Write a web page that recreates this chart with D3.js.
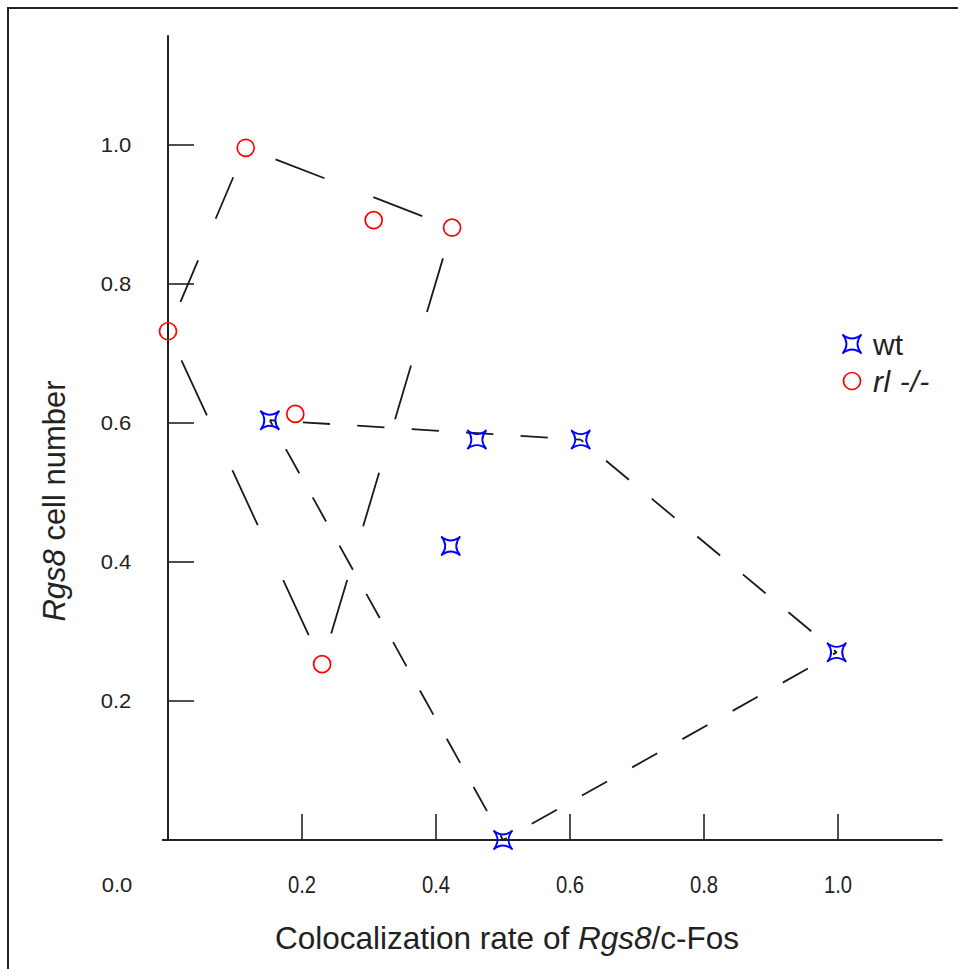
<!DOCTYPE html>
<html>
<head>
<meta charset="utf-8">
<script src="https://cdn.jsdelivr.net/npm/d3@7"></script>
<style>
  html, body { margin: 0; padding: 0; background: #fff; }
  svg { display: block; }
  text { font-family: "Liberation Sans", Arial, sans-serif; fill: #222; }
</style>
</head>
<body>
<div id="chart"></div>
<script>
// ---- data ----
const wtX = [0.152, 0.461, 0.616, 0.422, 0.998, 0.500];
const wtY = [0.604, 0.576, 0.576, 0.423, 0.270, 0.000];
const rlX = [0.000, 0.116, 0.307, 0.424, 0.190, 0.230];
const rlY = [0.732, 0.996, 0.892, 0.881, 0.613, 0.253];
const xTicks = [0.2, 0.4, 0.6, 0.8, 1.0];
const xTickLabels = ["0.2", "0.4", "0.6", "0.8", "1.0"];
const yTicks = [0.2, 0.4, 0.6, 0.8, 1.0];
const yTickLabels = ["0.2", "0.4", "0.6", "0.8", "1.0"];
const originLabel = "0.0";
const seriesNames = ["wt", "rl -/-"];

const W = 958, H = 969;
const svg = d3.select("#chart").append("svg").attr("width", W).attr("height", H);

// frame
svg.append("rect").attr("x", 8).attr("y", 8).attr("width", 1000).attr("height", 1000)
  .attr("fill", "none").attr("stroke", "#222").attr("stroke-width", 2);

const x = d3.scaleLinear().domain([0, 1]).range([168, 838]);
const y = d3.scaleLinear().domain([0, 1]).range([840, 145]);
const xMin = -0.009, xMax = 1.156, yMax = 1.158;

const axisG = svg.append("g").attr("stroke", "#222").attr("fill", "none");
axisG.append("line").attr("x1", x(xMin)).attr("x2", x(xMax)).attr("y1", y(0)).attr("y2", y(0)).attr("stroke-width", 2);
axisG.append("line").attr("x1", x(0)).attr("x2", x(0)).attr("y1", y(0)).attr("y2", y(yMax)).attr("stroke-width", 2);

// ticks (inward)
xTicks.forEach(t => axisG.append("line").attr("x1", x(t)).attr("x2", x(t)).attr("y1", y(0)).attr("y2", y(0) - 26).attr("stroke-width", 1.6));
yTicks.forEach(t => axisG.append("line").attr("y1", y(t)).attr("y2", y(t)).attr("x1", x(0)).attr("x2", x(0) + 26).attr("stroke-width", 1.6));

// tick labels
xTicks.forEach((t, i) => {
  svg.append("text").attr("transform", `translate(${x(t)},${893}) scale(0.88,1)`)
    .attr("text-anchor", "middle").attr("font-size", 23).text(xTickLabels[i]);
});
yTicks.forEach((t, i) => {
  svg.append("text").attr("transform", `translate(${116},${y(t) + 7}) scale(1.1,1)`)
    .attr("text-anchor", "middle").attr("font-size", 20).text(yTickLabels[i]);
});
svg.append("text").attr("transform", `translate(${117},${892}) scale(1.1,1)`)
  .attr("text-anchor", "middle").attr("font-size", 20).text(originLabel);

// axis titles
const xt = svg.append("text").attr("x", 507).attr("y", 949).attr("text-anchor", "middle").attr("font-size", 31.5);
xt.append("tspan").text("Colocalization rate of ");
xt.append("tspan").attr("font-style", "italic").text("Rgs8");
xt.append("tspan").text("/c-Fos");

const yt = svg.append("text").attr("transform", `translate(65,501) rotate(-90)`).attr("text-anchor", "middle").attr("font-size", 31);
yt.append("tspan").attr("font-style", "italic").text("Rgs8");
yt.append("tspan").text(" cell number");

// hulls: each edge dashed separately, pattern centred on the edge
function drawHull(xs, ys, targetDash, endGap) {
  const pts = xs.map((v, i) => [x(v), y(ys[i])]);
  const hull = d3.polygonHull(pts);
  const g = svg.append("g").attr("stroke", "#1a1a1a").attr("stroke-width", 1.8).attr("fill", "none");
  for (let i = 0; i < hull.length; i++) {
    const a = hull[i], b = hull[(i + 1) % hull.length];
    const L = Math.hypot(b[0] - a[0], b[1] - a[1]);
    const inner = L - 2 * endGap;
    const n = Math.max(1, Math.round((inner + targetDash) / (2 * targetDash)));
    const D = inner / (2 * n - 1);
    g.append("line").attr("x1", a[0]).attr("y1", a[1]).attr("x2", b[0]).attr("y2", b[1])
      .attr("stroke-dasharray", `${D},${D}`)
      .attr("stroke-dashoffset", 2 * D - endGap);
  }
}
drawHull(rlX, rlY, 55, 32);
drawHull(wtX, wtY, 27, 33);

// markers
const starPath = "M-9.5,-9.5 Q0,-1.5 9.5,-9.5 Q1.5,0 9.5,9.5 Q0,1.5 -9.5,9.5 Q-1.5,0 -9.5,-9.5 Z";
svg.append("g").selectAll("path").data(wtX.map((v, i) => [v, wtY[i]])).join("path")
  .attr("d", starPath).attr("transform", d => `translate(${x(d[0])},${y(d[1])})`)
  .attr("fill", "none").attr("stroke", "#0000ff").attr("stroke-width", 1.8);
svg.append("g").selectAll("circle").data(rlX.map((v, i) => [v, rlY[i]])).join("circle")
  .attr("cx", d => x(d[0])).attr("cy", d => y(d[1])).attr("r", 8.5)
  .attr("fill", "none").attr("stroke", "#ff0000").attr("stroke-width", 1.7);

// legend
const lg = svg.append("g");
lg.append("path").attr("d", starPath).attr("transform", "translate(852,344)")
  .attr("fill", "none").attr("stroke", "#0000ff").attr("stroke-width", 1.8);
lg.append("circle").attr("cx", 852).attr("cy", 381).attr("r", 8.5)
  .attr("fill", "none").attr("stroke", "#ff0000").attr("stroke-width", 1.7);
lg.append("text").attr("x", 873).attr("y", 355).attr("font-size", 30).text(seriesNames[0]);
lg.append("text").attr("x", 873).attr("y", 392).attr("font-size", 30).attr("font-style", "italic")
  .attr("letter-spacing", 0.6).text(seriesNames[1]);
</script>
</body>
</html>
